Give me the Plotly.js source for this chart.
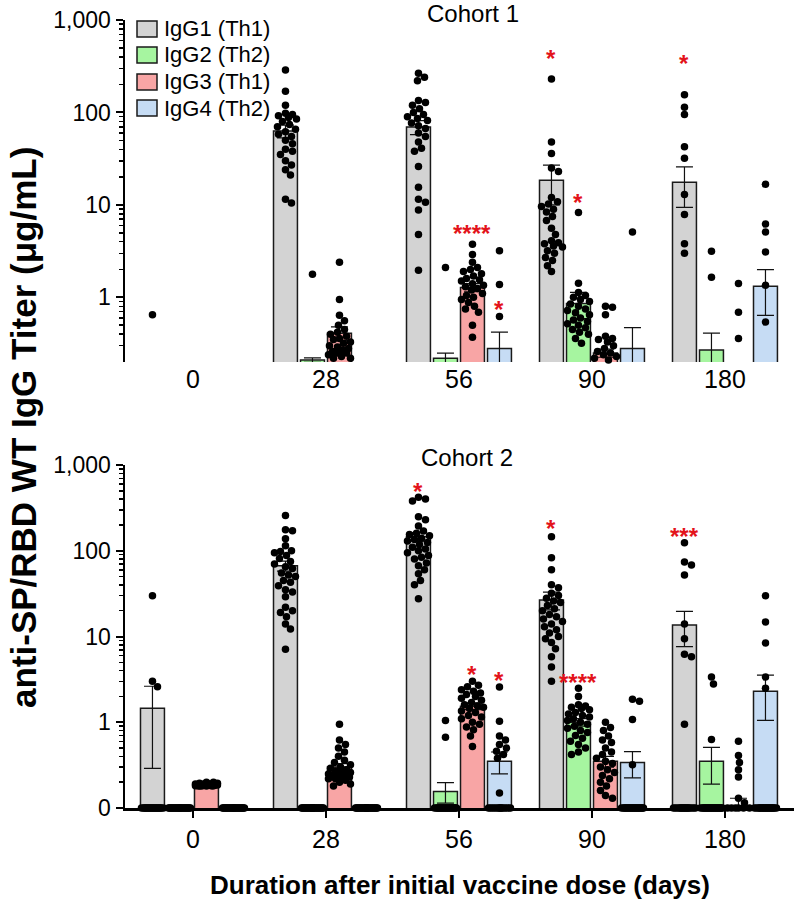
<!DOCTYPE html>
<html><head><meta charset="utf-8">
<script src="https://cdn.plot.ly/plotly-3.0.1.min.js"></script>
<style>body{margin:0;background:#fff}</style>
</head><body>
<div id="chart" style="width:794px;height:902px"></div>
<script>
// ---------------- DATA ----------------
const days = ['0', '28', '56', '90', '180'];
const seriesNames = ['IgG1 (Th1)', 'IgG2 (Th2)', 'IgG3 (Th1)', 'IgG4 (Th2)'];
const seriesColors = ['#d3d3d3', '#a6f5a0', '#f8a5a5', '#c6dcf4'];

// Cohort 1 bar means and SEM (μg/mL); null = bar below axis range
const c1Mean1 = [null, 63, 69.5, 18.5, 17.6];
const c1Sem1  = [0, 10, 12, 8.5, 8.2];
const c1Mean2 = [null, 0.21, 0.22, 0.86, 0.27];
const c1Sem2  = [0, 0.012, 0.03, 0.27, 0.14];
const c1Mean3 = [null, 0.41, 1.28, 0.25, null];
const c1Sem3  = [0, 0.07, 0.13, 0.025, 0];
const c1Mean4 = [null, null, 0.28, 0.28, 1.32];
const c1Sem4  = [0, 0, 0.14, 0.19, 0.68];

// Cohort 1 individual points (visible on the log axis)
const c1Pts1 = [[0.65],
  [288,170,120,98,95,92,88,85,80,74,70,66,62,58,55,50,46,40,38,35,30,27,24,21,11.5,10.5],
  [265,240,220,135,128,120,110,100,95,90,86,82,77,72,67,60,55,48,41,38,26,15.5,11.5,10.7,8.8,4.8,1.96],
  [230,48,36,25,23,12,10.8,10.2,9.6,9,8.4,7.5,6.8,5.6,4.8,4.1,3.9,3.8,3.6,3.5,3.2,3.0,2.7,2.5,2.2,1.9],
  [155,114,95,42.5,32,13,7.9,3.8,3.0]];
const c1Pts2 = [[], [1.78], [2.1],
  [8.3,1.42,1.13,1.05,1.0,0.95,0.9,0.85,0.8,0.75,0.72,0.68,0.65,0.6,0.57,0.55,0.52,0.5,0.47,0.45,0.42,0.4,0.36,0.32],
  [3.15,1.65]];
const c1Pts3 = [[],
  [2.4,0.95,0.64,0.56,0.5,0.45,0.42,0.4,0.38,0.36,0.35,0.33,0.32,0.3,0.29,0.28,0.27,0.26,0.25,0.25,0.24,0.23,0.22,0.22],
  [3.75,2.9,2.4,2.1,2.0,1.9,1.8,1.7,1.6,1.55,1.5,1.4,1.35,1.3,1.25,1.2,1.1,1.05,1.0,0.95,0.88,0.8,0.75,0.69,0.5,0.37],
  [0.8,0.78,0.65,0.38,0.36,0.35,0.33,0.3,0.28,0.26,0.25,0.24,0.23,0.22,0.21],
  [1.41,0.69,0.36]];
const c1Pts4 = [[], [], [3.2,1.38,0.62], [5.1], [16.7,6.2,5.1,3.1,1.35,0.54]];

// Cohort 2 bar means and SEM
const c2Mean1 = [1.46, 66.8, 146, 26.7, 13.6];
const c2Sem1  = [1.17, 9, 17, 6.3, 6];
const c2Mean2 = [null, null, 0.156, 1.0, 0.35];
const c2Sem2  = [0, 0, 0.042, 0.1, 0.16];
const c2Mean3 = [0.19, 0.30, 1.54, 0.35, 0.105];
const c2Sem3  = [0.004, 0.03, 0.14, 0.05, 0.025];
const c2Mean4 = [null, null, 0.35, 0.34, 2.3];
const c2Sem4  = [0, 0, 0.1, 0.115, 1.25];

// Cohort 2 non-zero points and number of zero values per bar
const c2Pts1 = [[29.8,3.0,2.6],
  [257,176,171,138,114,100,98,95,88,81,75,70,65,62,55,52,50,45,43,39,35,33,29,22,20,19,17,14,12.2,7.1],
  [420,400,380,250,230,195,170,160,155,150,140,135,130,125,118,110,105,100,95,88,84,80,72,67,60,54,45,40,27.5],
  [146,83,60,40,37,32,30,28,26,25,23,21,20,18,17,16,15,14,13,12,11,10,9.4,8.5,7.2,5.8,4.4,3.0],
  [124,74,68,52,14,9.4,6.2,5.8,0.95]];
const c2Zero1 = [21, 0, 0, 0, 17];
const c2Pts2 = [[], [], [1.05,0.67],
  [2.5,2.0,1.6,1.55,1.5,1.45,1.4,1.3,1.25,1.2,1.15,1.1,1.05,1.0,0.95,0.9,0.85,0.8,0.76,0.7,0.65,0.6,0.55,0.5,0.45,0.42],
  [3.36,2.8,0.63]];
const c2Zero2 = [24, 26, 22, 0, 22];
const c2Pts3 = [[0.2,0.2,0.195,0.195,0.19,0.19,0.19,0.19,0.188,0.188,0.186,0.186,0.185,0.185,0.184,0.184,0.183,0.183,0.182,0.182,0.18,0.18,0.18,0.18],
  [0.95,0.62,0.55,0.5,0.45,0.4,0.36,0.34,0.32,0.3,0.29,0.28,0.27,0.26,0.26,0.25,0.25,0.24,0.24,0.23,0.23,0.22,0.22,0.21,0.2,0.19,0.18],
  [3.0,2.7,2.6,2.4,2.3,2.2,2.1,2.0,1.9,1.8,1.7,1.6,1.55,1.5,1.45,1.35,1.3,1.2,1.15,1.1,1.0,0.95,0.88,0.82,0.69,0.52],
  [1.0,0.87,0.8,0.69,0.62,0.58,0.5,0.45,0.42,0.38,0.35,0.33,0.3,0.28,0.26,0.24,0.22,0.2,0.18,0.16,0.14,0.13],
  [0.6,0.41,0.34,0.28,0.23,0.13,0.115]];
const c2Zero3 = [0, 0, 0, 0, 6];
const c2Pts4 = [[], [], [2.57,1.03,0.69,0.62,0.55,0.5,0.46,0.42,0.38,0.15], [1.86,1.76,1.08,0.32], [29.8,14.8,8.4,3.36,2.5]];
const c2Zero4 = [24, 26, 14, 22, 20];

// Significance marks
const sigCohort = [1, 1, 1, 1, 1, 2, 2, 2, 2, 2, 2];
const sigDay    = [2, 2, 3, 3, 4, 2, 2, 2, 3, 3, 4];
const sigSeries = [2, 3, 0, 1, 0, 0, 2, 3, 0, 1, 0];
const sigText   = ['****', '*', '*', '*', '*', '*', '*', '*', '*', '****', '***'];
const sigY      = [5.6, 0.84, 430, 12.1, 380, 561, 4.17, 3.55, 207, 3.36, 167];

// ---------------- LAYOUT GEOMETRY ----------------
const W = 794, H = 902, ML = 125, MR = 0, MT = 20, MB = 94;
const plotW = W - ML - MR, plotH = H - MT - MB;
const xRange = [-0.511, 4.519];
const pxPerX = plotW / (xRange[1] - xRange[0]);
const topPx = [20, 362], botPx = [465, 808];
const dom = p => [(H - MB - p[1]) / plotH, (H - MB - p[0]) / plotH];
const paperX = px => (px - ML) / plotW;
const paperY = py => (H - MB - py) / plotH;
const topMin = 0.2, botMin = 0.1;
const topRange = [Math.log10(topMin), 3], botRange = [Math.log10(botMin), 3];
const pyTop = v => topPx[0] + (3 - Math.log10(v)) / (3 - topRange[0]) * (topPx[1] - topPx[0]);
const pyBot = v => botPx[0] + (3 - Math.log10(Math.max(v, botMin))) / (3 - botRange[0]) * (botPx[1] - botPx[0]);
const barStep = 0.203, barW = 0.18;
const sOff = k => (k - 1.5) * barStep;
const FONT = 'Liberation Sans, Arial, Helvetica, sans-serif';

function swarm(vals, pyf, maxOff, d) {
  const idx = vals.map((v, i) => i).sort((a, b) => vals[b] - vals[a]);
  const placed = [], offs = new Array(vals.length);
  const cands = [];
  for (let o = 0; o <= maxOff; o += 1) { cands.push(o); if (o > 0) cands.push(-o); }
  for (const i of idx) {
    const py = pyf(vals[i]);
    let best = 0, bestScore = -1;
    for (const o of cands) {
      let minD = Infinity;
      for (const p of placed) { const dd = Math.hypot(p.x - o, p.y - py); if (dd < minD) minD = dd; }
      if (minD >= d) { best = o; break; }
      if (minD > bestScore) { bestScore = minD; best = o; }
    }
    offs[i] = best; placed.push({ x: best, y: py });
  }
  return offs;
}

const cohorts = [
  { xa: 'x', ya: 'y', py: pyTop, means: [c1Mean1, c1Mean2, c1Mean3, c1Mean4], sems: [c1Sem1, c1Sem2, c1Sem3, c1Sem4],
    pts: [c1Pts1, c1Pts2, c1Pts3, c1Pts4], zeros: null },
  { xa: 'x2', ya: 'y2', py: pyBot, means: [c2Mean1, c2Mean2, c2Mean3, c2Mean4], sems: [c2Sem1, c2Sem2, c2Sem3, c2Sem4],
    pts: [c2Pts1, c2Pts2, c2Pts3, c2Pts4], zeros: [c2Zero1, c2Zero2, c2Zero3, c2Zero4] }
];

const traces = [];
cohorts.forEach((c, ci) => {
  for (let k = 0; k < 4; k++) {
    traces.push({
      type: 'bar', xaxis: c.xa, yaxis: c.ya, name: seriesNames[k], showlegend: false,
      x: days.map((d, i) => i + sOff(k)), y: c.means[k], width: barW,
      marker: { color: seriesColors[k], line: { color: '#1a1a1a', width: 1.5 } },
      error_y: { type: 'data', array: c.sems[k], visible: true, color: '#111', thickness: 1.2, width: 8.5 },
      hoverinfo: 'skip'
    });
  }
  const px = [], py = [];
  for (let k = 0; k < 4; k++) {
    days.forEach((d, i) => {
      let vals = c.pts[k][i].slice();
      if (c.zeros) for (let z = 0; z < c.zeros[k][i]; z++) vals.push(0);
      const plotVals = vals.map(v => (c.zeros && v <= 0) ? botMin : v);
      const offs = swarm(plotVals, c.py, 11, 7);
      plotVals.forEach((v, j) => { px.push(i + sOff(k) + offs[j] / pxPerX); py.push(v); });
    });
  }
  traces.push({
    type: 'scatter', mode: 'markers', xaxis: c.xa, yaxis: c.ya, x: px, y: py, showlegend: false,
    cliponaxis: false, marker: { color: '#000', size: 7.5, line: { width: 0 } }, hoverinfo: 'skip'
  });
});

function minorVals(lo) {
  const out = [];
  for (let e = -1; e <= 2; e++) for (let m = 2; m <= 9; m++) { const v = m * Math.pow(10, e); if (v > lo) out.push(v); }
  return out;
}

const yBase = {
  type: 'log', showline: true, linewidth: 2.5, linecolor: '#000', ticks: 'outside', ticklen: 7, tickwidth: 2,
  tickcolor: '#000', showgrid: false, zeroline: false, tickfont: { size: 23, color: '#000', family: FONT },
  fixedrange: true
};
const xBase = {
  range: xRange, tickmode: 'array', tickvals: [0, 1, 2, 3, 4], ticktext: days, showgrid: false, zeroline: false,
  tickfont: { size: 25, color: '#000', family: FONT }, fixedrange: true
};

const annotations = [], shapes = [];
annotations.push({ xref: 'paper', yref: 'paper', x: paperX(473), y: paperY(13),
  text: 'Cohort 1', showarrow: false, font: { size: 24, color: '#000', family: FONT }, xanchor: 'center', yanchor: 'middle' });
annotations.push({ xref: 'paper', yref: 'paper', x: paperX(467), y: paperY(457),
  text: 'Cohort 2', showarrow: false, font: { size: 24, color: '#000', family: FONT }, xanchor: 'center', yanchor: 'middle' });
annotations.push({ xref: 'paper', yref: 'paper', x: paperX(23), y: paperY(428),
  text: '<b>anti-SP/RBD WT IgG Titer (μg/mL)</b>', textangle: -90, showarrow: false,
  font: { size: 35, color: '#000', family: FONT }, xanchor: 'center', yanchor: 'middle' });
annotations.push({ xref: 'paper', yref: 'paper', x: paperX(460), y: paperY(885),
  text: '<b>Duration after initial vaccine dose (days)</b>', showarrow: false,
  font: { size: 26, color: '#000', family: FONT }, xanchor: 'center', yanchor: 'middle' });
sigText.forEach((t, i) => {
  annotations.push({ xref: sigCohort[i] === 1 ? 'x' : 'x2', yref: sigCohort[i] === 1 ? 'y' : 'y2',
    x: sigDay[i] + sOff(sigSeries[i]), y: Math.log10(sigY[i]), text: '<b>' + t + '</b>', showarrow: false, yshift: -5,
    font: { size: 24, color: '#e3131b', family: FONT }, xanchor: 'center', yanchor: 'middle' });
});

// custom legend (swatch + label)
const legRows = [29, 55, 82, 108];
seriesNames.forEach((n, k) => {
  shapes.push({ type: 'rect', xref: 'paper', yref: 'paper', x0: paperX(137), x1: paperX(157),
    y0: paperY(legRows[k] + 8), y1: paperY(legRows[k] - 8), fillcolor: seriesColors[k],
    line: { color: '#1a1a1a', width: 1.5 } });
  annotations.push({ xref: 'paper', yref: 'paper', x: paperX(162), y: paperY(legRows[k]), text: n,
    showarrow: false, xanchor: 'left', yanchor: 'middle', font: { size: 22, color: '#000', family: FONT } });
});

const layout = {
  width: W, height: H, margin: { l: ML, r: MR, t: MT, b: MB, pad: 0 },
  paper_bgcolor: '#fff', plot_bgcolor: 'rgba(0,0,0,0)', barmode: 'overlay',
  font: { family: FONT, color: '#000' },
  showlegend: false,
  xaxis: Object.assign({}, xBase, { anchor: 'y', showline: false, ticks: '' }),
  xaxis2: Object.assign({}, xBase, { anchor: 'y2', showline: true, linewidth: 2.5, linecolor: '#000', ticks: 'outside',
    ticklen: 7, tickwidth: 2, tickcolor: '#000' }),
  yaxis: Object.assign({}, yBase, { domain: dom(topPx), anchor: 'x', range: topRange,
    tickmode: 'array', tickvals: [1, 10, 100, 1000], ticktext: ['1', '10', '100', '1,000'],
    minor: { tickmode: 'array', tickvals: minorVals(topMin), ticks: 'outside', ticklen: 4, tickwidth: 1.5, tickcolor: '#000' } }),
  yaxis2: Object.assign({}, yBase, { domain: dom(botPx), anchor: 'x2', range: botRange,
    tickmode: 'array', tickvals: [0.1, 1, 10, 100, 1000], ticktext: ['0', '1', '10', '100', '1,000'],
    minor: { tickmode: 'array', tickvals: minorVals(botMin), ticks: 'outside', ticklen: 4, tickwidth: 1.5, tickcolor: '#000' } }),
  annotations: annotations,
  shapes: shapes
};

Plotly.newPlot('chart', traces, layout, { displayModeBar: false, staticPlot: true });
</script>
</body></html>
